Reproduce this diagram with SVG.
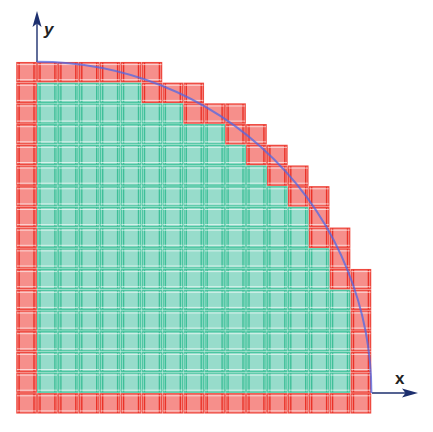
<svg xmlns="http://www.w3.org/2000/svg" xmlns:xlink="http://www.w3.org/1999/xlink" width="433" height="432" viewBox="0 0 433 432">
<defs>
<style>
.tc{fill:#97dccb;stroke:#4cc6a1;stroke-width:1.3}
.rc{fill:#f68f8b;stroke:#ee4a40;stroke-width:1.3}
.tv{stroke:#3fbf98;stroke-width:1.4}
.rv{stroke:#ea3228;stroke-width:1.4}
.hl{stroke:#ffffff;stroke-opacity:0.7;stroke-width:0.9}
.axis{stroke:#1d2f6e;stroke-width:1.4;fill:none}
.head{fill:#1d2f6e}
.lbl{font-family:"Liberation Sans",Arial,sans-serif;font-size:17px;fill:#222}
</style>
<g id="t"><rect class="tc" width="19.3" height="19.1"/><line class="tv" x1="2.2" y1="0" x2="2.2" y2="19.1"/><line class="tv" x1="17.1" y1="0" x2="17.1" y2="19.1"/><line class="hl" x1="0" y1="2" x2="19.3" y2="2"/><line class="hl" x1="0" y1="17.1" x2="19.3" y2="17.1"/></g>
<g id="r"><rect class="rc" width="19.3" height="19.1"/><line class="rv" x1="2.2" y1="0" x2="2.2" y2="19.1"/><line class="rv" x1="17.1" y1="0" x2="17.1" y2="19.1"/><line class="hl" x1="0" y1="2" x2="19.3" y2="2"/><line class="hl" x1="0" y1="17.1" x2="19.3" y2="17.1"/></g>
</defs>
<rect width="433" height="432" fill="#ffffff"/>
<g id="axes">
<line class="axis" x1="37" y1="62" x2="37" y2="20"/>
<path class="head" d="M37 11 L32.5 27 L37 23.5 L41.5 27 Z"/>
<line class="axis" x1="372" y1="393" x2="408" y2="393"/>
<path class="head" d="M418 393 L402 388.5 L405.5 393 L402 397.5 Z"/>
<text class="lbl" x="44" y="35" font-style="italic" font-weight="bold">y</text>
<text class="lbl" x="395" y="384" font-weight="bold">x</text>
</g>
<g id="teal-cells">
<g transform="translate(0,373.1)"><use xlink:href="#t" x="37.8"/><use xlink:href="#t" x="58.7"/><use xlink:href="#t" x="79.6"/><use xlink:href="#t" x="100.5"/><use xlink:href="#t" x="121.4"/><use xlink:href="#t" x="142.3"/><use xlink:href="#t" x="163.2"/><use xlink:href="#t" x="184.1"/><use xlink:href="#t" x="205"/><use xlink:href="#t" x="225.9"/><use xlink:href="#t" x="246.8"/><use xlink:href="#t" x="267.7"/><use xlink:href="#t" x="288.6"/><use xlink:href="#t" x="309.5"/><use xlink:href="#t" x="330.4"/></g>
<g transform="translate(0,352.4)"><use xlink:href="#t" x="37.8"/><use xlink:href="#t" x="58.7"/><use xlink:href="#t" x="79.6"/><use xlink:href="#t" x="100.5"/><use xlink:href="#t" x="121.4"/><use xlink:href="#t" x="142.3"/><use xlink:href="#t" x="163.2"/><use xlink:href="#t" x="184.1"/><use xlink:href="#t" x="205"/><use xlink:href="#t" x="225.9"/><use xlink:href="#t" x="246.8"/><use xlink:href="#t" x="267.7"/><use xlink:href="#t" x="288.6"/><use xlink:href="#t" x="309.5"/><use xlink:href="#t" x="330.4"/></g>
<g transform="translate(0,331.7)"><use xlink:href="#t" x="37.8"/><use xlink:href="#t" x="58.7"/><use xlink:href="#t" x="79.6"/><use xlink:href="#t" x="100.5"/><use xlink:href="#t" x="121.4"/><use xlink:href="#t" x="142.3"/><use xlink:href="#t" x="163.2"/><use xlink:href="#t" x="184.1"/><use xlink:href="#t" x="205"/><use xlink:href="#t" x="225.9"/><use xlink:href="#t" x="246.8"/><use xlink:href="#t" x="267.7"/><use xlink:href="#t" x="288.6"/><use xlink:href="#t" x="309.5"/><use xlink:href="#t" x="330.4"/></g>
<g transform="translate(0,311)"><use xlink:href="#t" x="37.8"/><use xlink:href="#t" x="58.7"/><use xlink:href="#t" x="79.6"/><use xlink:href="#t" x="100.5"/><use xlink:href="#t" x="121.4"/><use xlink:href="#t" x="142.3"/><use xlink:href="#t" x="163.2"/><use xlink:href="#t" x="184.1"/><use xlink:href="#t" x="205"/><use xlink:href="#t" x="225.9"/><use xlink:href="#t" x="246.8"/><use xlink:href="#t" x="267.7"/><use xlink:href="#t" x="288.6"/><use xlink:href="#t" x="309.5"/><use xlink:href="#t" x="330.4"/></g>
<g transform="translate(0,290.3)"><use xlink:href="#t" x="37.8"/><use xlink:href="#t" x="58.7"/><use xlink:href="#t" x="79.6"/><use xlink:href="#t" x="100.5"/><use xlink:href="#t" x="121.4"/><use xlink:href="#t" x="142.3"/><use xlink:href="#t" x="163.2"/><use xlink:href="#t" x="184.1"/><use xlink:href="#t" x="205"/><use xlink:href="#t" x="225.9"/><use xlink:href="#t" x="246.8"/><use xlink:href="#t" x="267.7"/><use xlink:href="#t" x="288.6"/><use xlink:href="#t" x="309.5"/><use xlink:href="#t" x="330.4"/></g>
<g transform="translate(0,269.6)"><use xlink:href="#t" x="37.8"/><use xlink:href="#t" x="58.7"/><use xlink:href="#t" x="79.6"/><use xlink:href="#t" x="100.5"/><use xlink:href="#t" x="121.4"/><use xlink:href="#t" x="142.3"/><use xlink:href="#t" x="163.2"/><use xlink:href="#t" x="184.1"/><use xlink:href="#t" x="205"/><use xlink:href="#t" x="225.9"/><use xlink:href="#t" x="246.8"/><use xlink:href="#t" x="267.7"/><use xlink:href="#t" x="288.6"/><use xlink:href="#t" x="309.5"/></g>
<g transform="translate(0,248.9)"><use xlink:href="#t" x="37.8"/><use xlink:href="#t" x="58.7"/><use xlink:href="#t" x="79.6"/><use xlink:href="#t" x="100.5"/><use xlink:href="#t" x="121.4"/><use xlink:href="#t" x="142.3"/><use xlink:href="#t" x="163.2"/><use xlink:href="#t" x="184.1"/><use xlink:href="#t" x="205"/><use xlink:href="#t" x="225.9"/><use xlink:href="#t" x="246.8"/><use xlink:href="#t" x="267.7"/><use xlink:href="#t" x="288.6"/><use xlink:href="#t" x="309.5"/></g>
<g transform="translate(0,228.2)"><use xlink:href="#t" x="37.8"/><use xlink:href="#t" x="58.7"/><use xlink:href="#t" x="79.6"/><use xlink:href="#t" x="100.5"/><use xlink:href="#t" x="121.4"/><use xlink:href="#t" x="142.3"/><use xlink:href="#t" x="163.2"/><use xlink:href="#t" x="184.1"/><use xlink:href="#t" x="205"/><use xlink:href="#t" x="225.9"/><use xlink:href="#t" x="246.8"/><use xlink:href="#t" x="267.7"/><use xlink:href="#t" x="288.6"/></g>
<g transform="translate(0,207.5)"><use xlink:href="#t" x="37.8"/><use xlink:href="#t" x="58.7"/><use xlink:href="#t" x="79.6"/><use xlink:href="#t" x="100.5"/><use xlink:href="#t" x="121.4"/><use xlink:href="#t" x="142.3"/><use xlink:href="#t" x="163.2"/><use xlink:href="#t" x="184.1"/><use xlink:href="#t" x="205"/><use xlink:href="#t" x="225.9"/><use xlink:href="#t" x="246.8"/><use xlink:href="#t" x="267.7"/><use xlink:href="#t" x="288.6"/></g>
<g transform="translate(0,186.8)"><use xlink:href="#t" x="37.8"/><use xlink:href="#t" x="58.7"/><use xlink:href="#t" x="79.6"/><use xlink:href="#t" x="100.5"/><use xlink:href="#t" x="121.4"/><use xlink:href="#t" x="142.3"/><use xlink:href="#t" x="163.2"/><use xlink:href="#t" x="184.1"/><use xlink:href="#t" x="205"/><use xlink:href="#t" x="225.9"/><use xlink:href="#t" x="246.8"/><use xlink:href="#t" x="267.7"/></g>
<g transform="translate(0,166.1)"><use xlink:href="#t" x="37.8"/><use xlink:href="#t" x="58.7"/><use xlink:href="#t" x="79.6"/><use xlink:href="#t" x="100.5"/><use xlink:href="#t" x="121.4"/><use xlink:href="#t" x="142.3"/><use xlink:href="#t" x="163.2"/><use xlink:href="#t" x="184.1"/><use xlink:href="#t" x="205"/><use xlink:href="#t" x="225.9"/><use xlink:href="#t" x="246.8"/></g>
<g transform="translate(0,145.4)"><use xlink:href="#t" x="37.8"/><use xlink:href="#t" x="58.7"/><use xlink:href="#t" x="79.6"/><use xlink:href="#t" x="100.5"/><use xlink:href="#t" x="121.4"/><use xlink:href="#t" x="142.3"/><use xlink:href="#t" x="163.2"/><use xlink:href="#t" x="184.1"/><use xlink:href="#t" x="205"/><use xlink:href="#t" x="225.9"/></g>
<g transform="translate(0,124.7)"><use xlink:href="#t" x="37.8"/><use xlink:href="#t" x="58.7"/><use xlink:href="#t" x="79.6"/><use xlink:href="#t" x="100.5"/><use xlink:href="#t" x="121.4"/><use xlink:href="#t" x="142.3"/><use xlink:href="#t" x="163.2"/><use xlink:href="#t" x="184.1"/><use xlink:href="#t" x="205"/></g>
<g transform="translate(0,104)"><use xlink:href="#t" x="37.8"/><use xlink:href="#t" x="58.7"/><use xlink:href="#t" x="79.6"/><use xlink:href="#t" x="100.5"/><use xlink:href="#t" x="121.4"/><use xlink:href="#t" x="142.3"/><use xlink:href="#t" x="163.2"/></g>
<g transform="translate(0,83.3)"><use xlink:href="#t" x="37.8"/><use xlink:href="#t" x="58.7"/><use xlink:href="#t" x="79.6"/><use xlink:href="#t" x="100.5"/><use xlink:href="#t" x="121.4"/></g>
</g>
<g id="red-cells">
<g transform="translate(16.9,0)"><use xlink:href="#r" y="393.8"/><use xlink:href="#r" y="373.1"/><use xlink:href="#r" y="352.4"/><use xlink:href="#r" y="331.7"/><use xlink:href="#r" y="311"/><use xlink:href="#r" y="290.3"/><use xlink:href="#r" y="269.6"/><use xlink:href="#r" y="248.9"/><use xlink:href="#r" y="228.2"/><use xlink:href="#r" y="207.5"/><use xlink:href="#r" y="186.8"/><use xlink:href="#r" y="166.1"/><use xlink:href="#r" y="145.4"/><use xlink:href="#r" y="124.7"/><use xlink:href="#r" y="104"/><use xlink:href="#r" y="83.3"/><use xlink:href="#r" y="62.6"/></g>
<g transform="translate(0,393.8)"><use xlink:href="#r" x="37.8"/><use xlink:href="#r" x="58.7"/><use xlink:href="#r" x="79.6"/><use xlink:href="#r" x="100.5"/><use xlink:href="#r" x="121.4"/><use xlink:href="#r" x="142.3"/><use xlink:href="#r" x="163.2"/><use xlink:href="#r" x="184.1"/><use xlink:href="#r" x="205"/><use xlink:href="#r" x="225.9"/><use xlink:href="#r" x="246.8"/><use xlink:href="#r" x="267.7"/><use xlink:href="#r" x="288.6"/><use xlink:href="#r" x="309.5"/><use xlink:href="#r" x="330.4"/><use xlink:href="#r" x="351.3"/></g>
<g transform="translate(351.3,0)"><use xlink:href="#r" y="373.1"/><use xlink:href="#r" y="352.4"/><use xlink:href="#r" y="331.7"/><use xlink:href="#r" y="311"/><use xlink:href="#r" y="290.3"/><use xlink:href="#r" y="269.6"/></g>
<use xlink:href="#r" x="330.4" y="269.6"/>
<use xlink:href="#r" x="330.4" y="248.9"/>
<use xlink:href="#r" x="309.5" y="228.2"/><use xlink:href="#r" x="330.4" y="228.2"/>
<use xlink:href="#r" x="309.5" y="207.5"/>
<use xlink:href="#r" x="288.6" y="186.8"/><use xlink:href="#r" x="309.5" y="186.8"/>
<use xlink:href="#r" x="267.7" y="166.1"/><use xlink:href="#r" x="288.6" y="166.1"/>
<use xlink:href="#r" x="246.8" y="145.4"/><use xlink:href="#r" x="267.7" y="145.4"/>
<use xlink:href="#r" x="225.9" y="124.7"/><use xlink:href="#r" x="246.8" y="124.7"/>
<use xlink:href="#r" x="184.1" y="104"/><use xlink:href="#r" x="205" y="104"/><use xlink:href="#r" x="225.9" y="104"/>
<use xlink:href="#r" x="142.3" y="83.3"/><use xlink:href="#r" x="163.2" y="83.3"/><use xlink:href="#r" x="184.1" y="83.3"/>
<g transform="translate(0,62.6)"><use xlink:href="#r" x="37.8"/><use xlink:href="#r" x="58.7"/><use xlink:href="#r" x="79.6"/><use xlink:href="#r" x="100.5"/><use xlink:href="#r" x="121.4"/><use xlink:href="#r" x="142.3"/></g>
</g>
<g id="arc">
<path d="M37 61.8 A334.4 331.2 0 0 1 371.4 393" fill="none" stroke="#4f68e6" stroke-opacity="0.75" stroke-width="2"/>
</g>
</svg>
